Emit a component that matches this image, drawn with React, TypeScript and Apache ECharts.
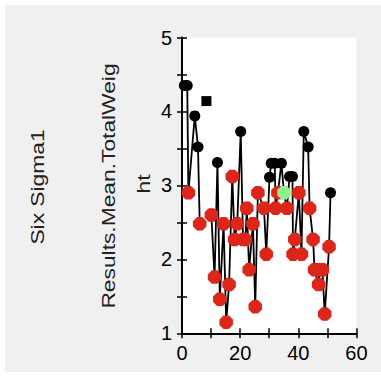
import React, { useEffect, useRef } from "react";
import * as echarts from "echarts";

// Observation index (x) and Results.Mean.TotalWeight (y); "-" marks a gap in the line
const obsX: number[] = [
  0.8, 1.8, 2.2, 4.4, 5.5, 6.1, 7, 8.4, 9, 10.1, 11.2, 12.2, 13.0, 14.3, 15.2, 16.2, 17.3,
  18.1, 19.0, 20.2, 21.0, 21.8, 22.3, 23.1, 24.4, 25.2, 26.1, 28.2, 29.0, 30.1, 30.7, 31.9,
  32.2, 33.0, 34.2, 35.1, 36.1, 37.0, 38.0, 38.2, 38.8, 40.2, 41.1, 41.9, 43.4, 43.9, 45.1,
  45.6, 47.0, 47.3, 48.3, 49.1, 50.6, 51.1,
];
const weightY: (number | string)[] = [
  4.35, 4.35, 2.9, 3.94, 3.52, 2.48, "-", 4.14, "-", 2.6, 1.76, 3.31, 1.46, 2.48, 1.15, 1.66,
  3.12, 2.27, 2.48, 3.73, 2.27, 2.27, 2.69, 1.86, 2.48, 1.36, 2.9, 2.69, 2.07, 3.11, 3.3, 3.3,
  2.69, 2.9, 3.3, 2.9, 2.69, 3.12, 3.12, 2.07, 2.27, 2.9, 2.07, 3.73, 3.52, 2.69, 2.27, 1.86,
  1.66, 1.86, 1.86, 1.26, 2.17, 2.9,
];
// point status: B = black, R = red, G = green (selected), S = isolated square
const pointKind: string[] = [
  "B", "B", "R", "B", "B", "R", "-", "S", "-", "R", "R", "B", "R", "R", "R", "R", "R",
  "R", "R", "B", "R", "R", "R", "R", "R", "R", "R", "R", "R", "B", "B", "B",
  "R", "R", "B", "G", "R", "B", "B", "R", "R", "R", "R", "B", "B", "R", "R",
  "R", "R", "R", "R", "R", "R", "B",
];
const xTicks = { min: 0, max: 60, interval: 20 };
const yTicks = { min: 1, max: 5, interval: 1 };
const yTitle = "Results.Mean.TotalWeig";
const yTitle2 = "ht";
const sideTitle = "Six Sigma1";

const OCT = "path://M30,0 L70,0 L100,30 L100,70 L70,100 L30,100 L0,70 L0,30 Z";

export default function App() {
  const ref = useRef<HTMLDivElement>(null);
  useEffect(() => {
    if (!ref.current) return;
    const chart = echarts.init(ref.current, null, { renderer: "svg" });
    const data = obsX.map((x, i) => {
      const k = pointKind[i];
      const y = weightY[i];
      if (k === "-") return [x, "-"];
      let item: any = { value: [x, y] };
      if (k === "R") item = { ...item, symbol: OCT, symbolSize: 13.5, itemStyle: { color: "#dc2619" } };
      else if (k === "G") item = { ...item, symbol: OCT, symbolSize: 13.5, itemStyle: { color: "#92f08a" } };
      else if (k === "S") item = { ...item, symbol: "rect", symbolSize: 10, itemStyle: { color: "#000" } };
      else item = { ...item, symbol: "circle", symbolSize: 11, itemStyle: { color: "#000" } };
      return item;
    });
    const font = "'Liberation Sans', Arial, sans-serif";
    const axisCommon = {
      axisLine: { show: true, lineStyle: { color: "#000", width: 2 } },
      splitLine: { show: false },
    };
    const tickStyle = { color: "#000", width: 1.5 };
    const titleText = (text: string, x: number, y: number) => ({
      type: "text",
      x,
      y,
      rotation: Math.PI / 2,
      scaleX: 1.2,
      style: { text, fill: "#222", font: `19px ${font}`, align: "center", verticalAlign: "middle" },
    });
    chart.setOption({
      animation: false,
      backgroundColor: "#f0f0f0",
      grid: {
        left: 177,
        top: 32.5,
        width: 174.4,
        height: 295.8,
        show: true,
        backgroundColor: "#ffffff",
        borderWidth: 0,
      },
      xAxis: [
        {
          type: "value",
          position: "bottom",
          ...xTicks,
          ...axisCommon,
          axisTick: { show: true, inside: false, length: 5, lineStyle: tickStyle },
          minorTick: { show: true, splitNumber: 2, length: 5, lineStyle: tickStyle },
          axisLabel: { color: "#000", fontSize: 20, fontFamily: font, margin: 10 },
        },
        {
          type: "value",
          position: "bottom",
          ...xTicks,
          axisLine: { show: false },
          splitLine: { show: false },
          axisTick: { show: true, inside: true, length: 5, lineStyle: tickStyle },
          minorTick: { show: true, splitNumber: 2, length: 5, lineStyle: tickStyle },
          axisLabel: { show: false },
        },
      ],
      yAxis: [
        {
          type: "value",
          position: "left",
          ...yTicks,
          ...axisCommon,
          axisTick: { show: true, inside: false, length: 5, lineStyle: tickStyle },
          minorTick: { show: true, splitNumber: 2, length: 5, lineStyle: tickStyle },
          axisLabel: { color: "#000", fontSize: 20, fontFamily: font, margin: 10 },
        },
        {
          type: "value",
          position: "left",
          ...yTicks,
          axisLine: { show: false },
          splitLine: { show: false },
          axisTick: { show: true, inside: true, length: 5, lineStyle: tickStyle },
          minorTick: { show: true, splitNumber: 2, length: 5, lineStyle: tickStyle },
          axisLabel: { show: false },
        },
      ],
      graphic: [
        titleText(sideTitle, 32, 182),
        titleText(yTitle, 103, 181),
        titleText(yTitle2, 138, 179),
      ],
      series: [
        {
          type: "line",
          xAxisIndex: 0,
          yAxisIndex: 0,
          data,
          connectNulls: false,
          lineStyle: { color: "#000", width: 1.8 },
          showAllSymbol: true,
          z: 3,
        },
      ],
    });
    return () => chart.dispose();
  }, []);
  return (
    <div style={{ position: "absolute", left: 0, top: 0, width: 381, height: 382, background: "#fff" }}>
      <div ref={ref} style={{ position: "absolute", left: 5, top: 5, width: 376, height: 367 }} />
    </div>
  );
}
